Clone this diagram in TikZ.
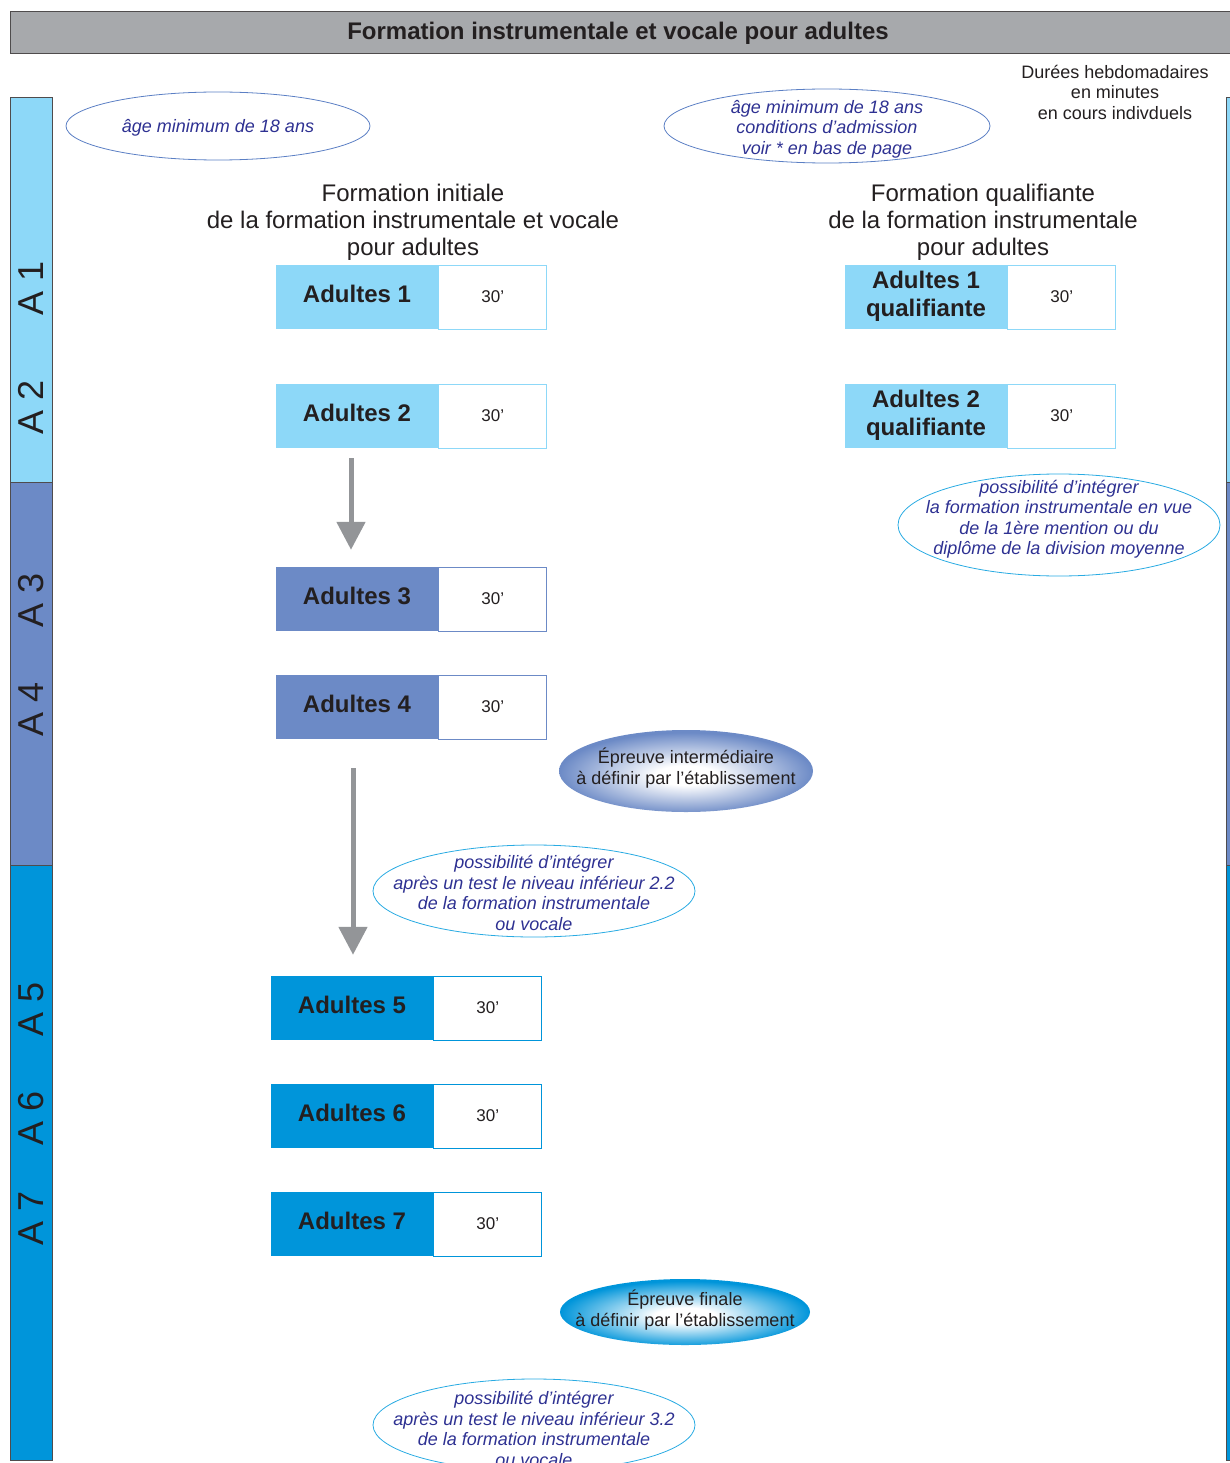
\documentclass[tikz,border=0pt]{standalone}
\usepackage{fontspec}
\setmainfont{Liberation Sans}
\usetikzlibrary{positioning,shapes.geometric,arrows.meta}

\definecolor{bleuclair}{HTML}{8DD8F8}
\definecolor{bleumoyen}{HTML}{6C8AC6}
\definecolor{bleuvif}{HTML}{0095DA}
\definecolor{grisbandeau}{HTML}{A7A9AC}
\definecolor{grisfleche}{HTML}{939598}
\definecolor{encre}{HTML}{231F20}
\definecolor{bleutexte}{HTML}{2E3192}
\definecolor{bordage}{HTML}{5B7FC4}
\definecolor{bordcyan}{HTML}{29ABE2}

\pgfdeclareradialshading{epreuveinter}{\pgfpoint{0bp}{-3bp}}{color(0bp)=(white); color(6bp)=(white); color(25bp)=(bleumoyen); color(50bp)=(bleumoyen)}
\pgfdeclareradialshading{epreuvefinale}{\pgfpoint{0bp}{-3bp}}{color(0bp)=(white); color(6bp)=(white); color(25bp)=(bleuvif); color(50bp)=(bleuvif)}

\begin{document}
\begin{tikzpicture}[x=1pt,y=-1pt,
    niveau/.style={minimum width=162pt,minimum height=64pt,inner sep=0pt,text depth=6pt,align=center,text=encre,font=\bfseries\fontsize{24}{28}\selectfont},
    duree/.style={draw=#1,line width=1pt,fill=white,minimum width=108pt,minimum height=64pt,inner sep=0pt,text=encre,font=\fontsize{17}{20}\selectfont},
    titre/.style={align=center,text=encre,font=\fontsize{24}{27}\selectfont},
    bulle/.style={ellipse,draw=#1,line width=0.8pt,inner sep=0pt},
    bulletexte/.style={align=center,text=bleutexte,font=\itshape\fontsize{18}{20.5}\selectfont},
    epreuve/.style={ellipse,shade,shading=#1,inner sep=0pt},
    epreuvetexte/.style={align=center,text=encre,font=\fontsize{18}{20.5}\selectfont},
    fleche/.style={draw=grisfleche,line width=5pt,-{Triangle[width=28pt,length=28pt]}},
    annee/.style={rotate=90,text=encre,font=\fontsize{36}{36}\selectfont},
    barre/.style={draw=encre!80,line width=1pt}]

    \useasboundingbox (0,0) rectangle (1229,1463);

    \draw[barre,fill=grisbandeau] (10,12) rectangle (1245,54);
    \node[text=encre,font=\bfseries\fontsize{24}{28}\selectfont] (titre) at (618,33) {Formation instrumentale et vocale pour adultes};

    \foreach \xa/\xb in {10/52,1226/1268}{
        \draw[barre,fill=bleuclair] (\xa,98) rectangle (\xb,482);
        \draw[barre,fill=bleumoyen] (\xa,482) rectangle (\xb,865);
        \draw[barre,fill=bleuvif] (\xa,865) rectangle (\xb,1460);
    }

    \foreach \num/\y in {1/288,2/407,3/600,4/709,5/1009,6/1118,7/1218}{
        \node[annee] (A\num) at (31,\y) {A \num};
    }

    \node[text=encre,align=center,font=\fontsize{18}{20.5}\selectfont] (durees) at (1115,92) {Durées hebdomadaires\\en minutes\\en cours indivduels};

    \node[titre] (initiale) at (413,222) {Formation initiale\\de la formation instrumentale et vocale\\pour adultes};
    \node[titre] (qualifiante) at (983,222) {Formation qualifiante\\de la formation instrumentale\\pour adultes};

    \node[bulle=bordage,minimum width=304pt,minimum height=68pt] (age1) at (218,126) {};
    \node[bulletexte] (age1txt) at (218,128) {âge minimum de 18 ans};
    \node[bulle=bordage,minimum width=326pt,minimum height=74pt] (age2) at (827,126) {};
    \node[bulletexte] (age2txt) at (827,129) {âge minimum de 18 ans\\conditions d’admission\\voir * en bas de page};

    \node[niveau,fill=bleuclair] (a1) at (357,297) {Adultes 1};
    \node[duree=bleuclair,right=0pt of a1] (d1) {30’};
    \node[niveau,fill=bleuclair] (a2) at (357,416) {Adultes 2};
    \node[duree=bleuclair,right=0pt of a2] (d2) {30’};
    \node[niveau,fill=bleumoyen] (a3) at (357,599) {Adultes 3};
    \node[duree=bleumoyen,right=0pt of a3] (d3) {30’};
    \node[niveau,fill=bleumoyen] (a4) at (357,707) {Adultes 4};
    \node[duree=bleumoyen,right=0pt of a4] (d4) {30’};
    \node[niveau,fill=bleuvif] (a5) at (352,1008) {Adultes 5};
    \node[duree=bleuvif,right=0pt of a5] (d5) {30’};
    \node[niveau,fill=bleuvif] (a6) at (352,1116) {Adultes 6};
    \node[duree=bleuvif,right=0pt of a6] (d6) {30’};
    \node[niveau,fill=bleuvif] (a7) at (352,1224) {Adultes 7};
    \node[duree=bleuvif,right=0pt of a7] (d7) {30’};

    \node[niveau,fill=bleuclair] (q1) at (926,297) {Adultes 1\\qualifiante};
    \node[duree=bleuclair,right=0pt of q1] (dq1) {30’};
    \node[niveau,fill=bleuclair] (q2) at (926,416) {Adultes 2\\qualifiante};
    \node[duree=bleuclair,right=0pt of q2] (dq2) {30’};

    \draw[fleche] ([xshift=-6pt,yshift=-10pt]a2.south) -- ([xshift=-6pt,yshift=17pt]a3.north);
    \draw[fleche] ([xshift=-4pt,yshift=-29pt]a4.south) -- ([xshift=1pt,yshift=21pt]a5.north);

    \node[bulle=bordcyan,minimum width=322pt,minimum height=102pt] (mention) at (1059,525) {};
    \node[bulletexte] (mentiontxt) at (1059,519) {possibilité d’intégrer\\la formation instrumentale en vue\\de la 1ère mention ou du\\diplôme de la division moyenne};

    \node[epreuve=epreuveinter,minimum width=254pt,minimum height=82pt] (inter) at (686,771) {};
    \node[epreuvetexte] (intertxt) at (686,768) {Épreuve intermédiaire\\à définir par l’établissement};

    \node[bulle=bordcyan,minimum width=322pt,minimum height=92pt] (niveau22) at (534,891) {};
    \node[bulletexte] (niveau22txt) at (534,893) {possibilité d’intégrer\\après un test le niveau inférieur 2.2\\de la formation instrumentale\\ou vocale};

    \node[epreuve=epreuvefinale,minimum width=250pt,minimum height=66pt] (finale) at (685,1312) {};
    \node[epreuvetexte] (finaletxt) at (685,1310) {Épreuve finale\\à définir par l’établissement};

    \node[bulle=bordcyan,minimum width=322pt,minimum height=92pt] (niveau32) at (534,1425) {};
    \node[bulletexte] (niveau32txt) at (534,1429) {possibilité d’intégrer\\après un test le niveau inférieur 3.2\\de la formation instrumentale\\ou vocale};
\end{tikzpicture}
\end{document}
